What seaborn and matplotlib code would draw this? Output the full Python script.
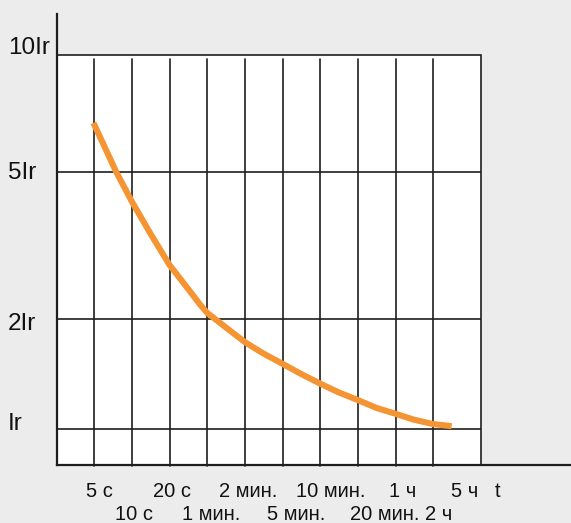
import numpy as np
import pandas as pd
import matplotlib
matplotlib.use("Agg")
import matplotlib.pyplot as plt
import seaborn as sns
from matplotlib.patches import Rectangle

# ---- data ----
# time labels under the grid, one per division (5 s ... 5 h)
time_labels = ["5 с", "10 с", "20 с", "1 мин.", "2 мин.", "5 мин.",
               "10 мин.", "20 мин.", "1 ч", "2 ч", "5 ч"]
# current levels (multiples of Ir) and their labels
level_values = [1, 2, 5, 10]
level_labels = ["Ir", "2Ir", "5Ir", "10Ir"]
# tripping curve: x in grid divisions, y in multiples of Ir
curve_x = [0.98, 1.29, 1.58, 2.00, 2.48, 3.00, 3.54, 3.81, 4.00, 4.52,
           5.00, 5.49, 5.99, 6.46, 7.00, 7.48, 7.99, 8.50, 8.99, 9.47,
           9.99, 10.49]
curve_y = [6.67, 5.75, 5.00, 4.15, 3.42, 2.80, 2.38, 2.19, 2.08, 1.89,
           1.73, 1.61, 1.51, 1.42, 1.33, 1.26, 1.20, 1.14, 1.10, 1.06,
           1.03, 1.016]

# ---- layout (reference pixel rows of the Ir lines, label placement) ----
ROW_KNOTS = np.array([792.5, 428.7, 319.2, 171.5, 54.5, -334.2])
LOG_KNOTS = np.array([-1.0, 0.0, np.log10(2), np.log10(5), 1.0, 2.0])
AX_TOP, AX_BOTTOM = 14.0, 464.5
label_u = [1.136, 2.057, 3.058, 4.109, 5.092, 6.376, 7.287, 8.721, 9.198, 10.146, 10.844]
level_dy = [-0.9, -7.8, -5.6, 0.0]   # points, baseline shift of level labels
N_DIV = 10
PANEL_RIGHT = 11.28


def fwd(y):
    y = np.clip(np.asarray(y, dtype=float), 1e-9, None)
    return -np.interp(np.log10(y), LOG_KNOTS, ROW_KNOTS)


def inv(p):
    return 10 ** np.interp(np.asarray(p, dtype=float), -ROW_KNOTS, LOG_KNOTS)


sns.set_style("white")
plt.rcParams["font.family"] = ["Liberation Sans", "DejaVu Sans"]

bg = "#ececec"
ink = "#1e1e1e"
orange = "#f59432"

fig = plt.figure(figsize=(5.71, 5.23), dpi=100, facecolor=bg)
ax = fig.add_axes([56.5 / 571, (523 - AX_BOTTOM) / 523, (571 - 56.5) / 571,
                   (AX_BOTTOM - AX_TOP) / 523])
ax.set_facecolor("none")
ax.set_yscale("function", functions=(fwd, inv))
ax.set_xlim(0, (571 - 56.5) / 37.67)
ax.set_ylim(float(inv(-AX_BOTTOM)), float(inv(-AX_TOP)))

# white panel with top/right border
y0 = float(inv(-AX_BOTTOM))
ax.add_patch(Rectangle((0, y0), PANEL_RIGHT, level_values[-1] - y0,
                       facecolor="white", edgecolor=ink, linewidth=1.2, zorder=0))

# grid
ax.hlines(level_values[:-1], 0, PANEL_RIGHT, color=ink, linewidth=1.2, zorder=1)
top_frac = (AX_BOTTOM - 59) / (AX_BOTTOM - AX_TOP)
for u in range(1, N_DIV + 1):
    ax.axvline(u, ymin=-0.004, ymax=top_frac, color=ink, linewidth=1.2,
               clip_on=False, zorder=1)

df = pd.DataFrame({"div": curve_x, "ir": curve_y})
sns.lineplot(data=df, x="div", y="ir", ax=ax, color=orange, linewidth=4.4,
             sort=False, solid_capstyle="butt", solid_joinstyle="round", zorder=3)

for s in ["top", "right"]:
    ax.spines[s].set_visible(False)
for s in ["left", "bottom"]:
    ax.spines[s].set_color(ink)
    ax.spines[s].set_linewidth(1.6)
ax.set_xticks([])
ax.set_yticks([])
ax.set_xlabel("")
ax.set_ylabel("")

# level labels on the left
for val, lab, dy in zip(level_values, level_labels, level_dy):
    ax.annotate(lab, xy=(-0.0947, val), xycoords=("axes fraction", "data"),
                xytext=(0, dy), textcoords="offset points",
                ha="left", va="baseline", fontsize=17.5, color="#111111",
                annotation_clip=False)

# time labels in two staggered rows
for i, (u, lab) in enumerate(zip(label_u, time_labels)):
    dy = -23.2 if i % 2 == 0 else -39.6
    ax.annotate(lab, xy=(u, 0), xycoords=("data", "axes fraction"),
                xytext=(0, dy), textcoords="offset points",
                ha="center", va="baseline", fontsize=14.5, color="#111111",
                annotation_clip=False)
ax.annotate("t", xy=(11.72, 0), xycoords=("data", "axes fraction"),
            xytext=(0, -23.2), textcoords="offset points",
            ha="center", va="baseline", fontsize=14.5, color="#111111",
            annotation_clip=False)

fig.savefig("out.png", dpi=100, facecolor=bg)
